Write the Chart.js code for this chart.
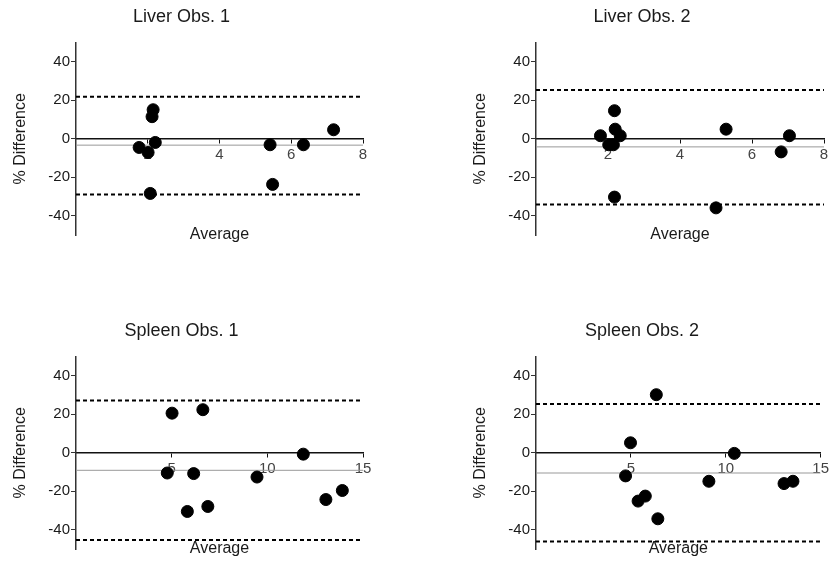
<!DOCTYPE html>
<html>
<head>
<meta charset="utf-8">
<script src="https://cdn.jsdelivr.net/npm/chart.js@4/dist/chart.umd.min.js"></script>
<style>
  body { margin: 0; background: #fff; }
  #wrap { position: relative; width: 832px; height: 564px; }
  .panel { position: absolute; }
</style>
</head>
<body>
<div id="wrap">
  <canvas class="panel" id="c0"></canvas>
  <canvas class="panel" id="c1"></canvas>
  <canvas class="panel" id="c2"></canvas>
  <canvas class="panel" id="c3"></canvas>
</div>
<script>
// panel titles and axis texts
const titles = ['Liver Obs. 1', 'Liver Obs. 2', 'Spleen Obs. 1', 'Spleen Obs. 2'];
const xTitle = 'Average';
const yTitle = '% Difference';

// tick labels
const liverXTicks = [2, 4, 6, 8];
const spleenXTicks = [5, 10, 15];
const yTicks = [-40, -20, 0, 20, 40];

// points
const liver1X = [1.76, 2.01, 2.15, 2.12, 2.21, 2.07, 5.41, 5.48, 6.34, 7.18];
const liver1Y = [-4.5, -7.1, 15.1, 11.5, -1.9, -28.4, -3.1, -23.7, -3.1, 4.7];
const liver2X = [1.79, 2.02, 2.15, 2.18, 2.20, 2.34, 2.18, 5.28, 5.00, 6.81, 7.04];
const liver2Y = [1.6, -3.1, -3.1, 14.6, 5.0, 1.6, -30.3, 5.0, -35.9, -6.8, 1.6];
const spleen1X = [5.02, 6.63, 4.77, 6.15, 5.82, 6.89, 9.46, 11.88, 13.06, 13.92];
const spleen1Y = [20.6, 22.4, -10.5, -10.8, -30.5, -27.9, -12.6, -0.7, -24.3, -19.6];
const spleen2X = [6.34, 4.98, 4.72, 5.38, 5.76, 6.42, 9.11, 10.45, 13.07, 13.54];
const spleen2Y = [30.2, 5.2, -12.0, -25.1, -22.5, -34.3, -14.8, -0.3, -16.0, -14.8];

// upper limit, mean bias, lower limit
const liver1Lines = [21.8, -3.3, -28.9];
const liver2Lines = [25.4, -4.2, -34.1];
const spleen1Lines = [27.2, -9.1, -45.3];
const spleen2Lines = [25.3, -10.5, -46.1];

const xMaxes = [8, 8, 15, 15];
const yMin = -50, yMax = 50;

const seriesX = [liver1X, liver2X, spleen1X, spleen2X];
const seriesY = [liver1Y, liver2Y, spleen1Y, spleen2Y];
const lines = [liver1Lines, liver2Lines, spleen1Lines, spleen2Lines];
const xTicks = [liverXTicks, liverXTicks, spleenXTicks, spleenXTicks];

// canvas placement: left, top, padLeft, padRight
const places = [
  [0, 0, 0, 53],
  [416, 0, 44, 8],
  [0, 314, 0, 53],
  [416, 314, 44, 8],
];

const FONT = "'Liberation Sans', Arial, Helvetica, sans-serif";
Chart.defaults.font.family = FONT;
Chart.defaults.color = '#222';

// x axis title sits under the plot, at the foot of the y axis
const xTitlePlugin = {
  id: 'xTitle',
  afterDraw(chart) {
    const a = chart.chartArea;
    const ctx = chart.ctx;
    ctx.save();
    ctx.font = '16px ' + FONT;
    ctx.fillStyle = '#1a1a1a';
    ctx.textAlign = 'center';
    ctx.textBaseline = 'middle';
    ctx.fillText(xTitle, (a.left + a.right) / 2, a.bottom);
    ctx.restore();
  }
};

function hLine(v, xMax) {
  return [{x: 0, y: v}, {x: xMax, y: v}];
}

for (let i = 0; i < 4; i++) {
  const [left, top, padL, padR] = places[i];
  const canvas = document.getElementById('c' + i);
  canvas.style.left = left + 'px';
  canvas.style.top = top + 'px';
  canvas.width = 416;
  canvas.height = 250;
  canvas.style.width = '416px';
  canvas.style.height = '250px';

  const xMax = xMaxes[i];
  const pts = seriesX[i].map((x, k) => ({x: x, y: seriesY[i][k]}));
  const [upper, mean, lower] = lines[i];

  const dashed = {
    type: 'line', borderColor: '#000', borderWidth: 2, borderDash: [4, 3],
    pointRadius: 0, fill: false, order: 2
  };

  new Chart(canvas, {
    type: 'scatter',
    data: {
      datasets: [
        Object.assign({data: hLine(upper, xMax)}, dashed),
        Object.assign({data: hLine(lower, xMax)}, dashed),
        {
          type: 'line', data: hLine(mean, xMax), borderColor: '#999',
          borderWidth: 1, pointRadius: 0, fill: false, order: 3
        },
        {
          data: pts, backgroundColor: '#000', borderColor: '#000',
          pointRadius: 6, pointHoverRadius: 6, order: 1
        }
      ]
    },
    options: {
      responsive: false,
      animation: false,
      layout: {padding: {left: padL, right: padR, top: 0, bottom: 15}},
      plugins: {
        legend: {display: false},
        tooltip: {enabled: false},
        title: {
          display: true, text: titles[i], color: '#1a1a1a',
          font: {size: 18, weight: 'normal'},
          padding: {top: 6, bottom: 15}
        }
      },
      scales: {
        x: {
          type: 'linear', min: 0, max: xMax,
          position: {y: 0},
          afterBuildTicks: (s) => { s.ticks = xTicks[i].map(v => ({value: v})); },
          border: {display: true, color: '#111', width: 1.5},
          grid: {drawOnChartArea: false, drawTicks: true, tickLength: 4, color: '#111'},
          ticks: {color: '#444', font: {size: 15}, padding: 3, maxRotation: 0}
        },
        y: {
          type: 'linear', min: yMin, max: yMax,
          afterBuildTicks: (s) => { s.ticks = yTicks.map(v => ({value: v})); },
          afterFit: (s) => { s.width = 76; },
          border: {display: true, color: '#333', width: 1.5},
          grid: {drawOnChartArea: false, drawTicks: true, tickLength: 5, color: '#333'},
          ticks: {color: '#1a1a1a', font: {size: 15}, padding: 1},
          title: {
            display: true, text: yTitle, color: '#1a1a1a',
            font: {size: 16}, padding: {top: 11, bottom: 0}
          }
        }
      }
    },
    plugins: [xTitlePlugin]
  });
}
</script>
</body>
</html>
